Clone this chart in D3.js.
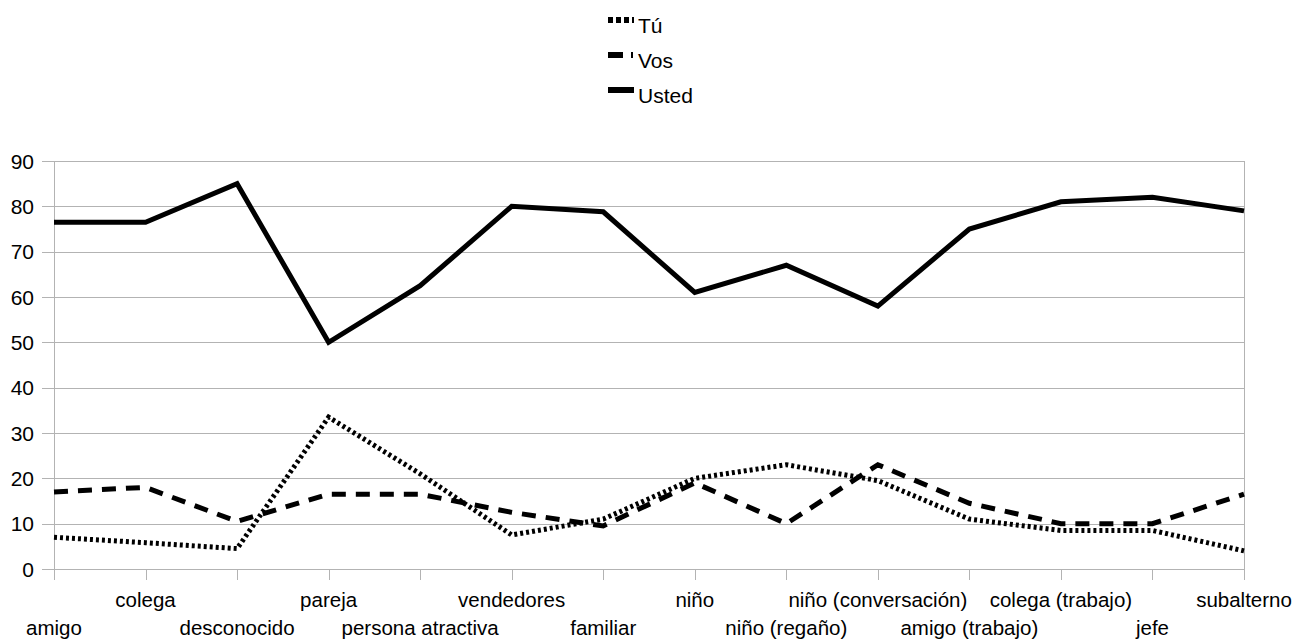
<!DOCTYPE html>
<html>
<head>
<meta charset="utf-8">
<script src="https://cdn.jsdelivr.net/npm/d3@7"></script>
<style>
  body { margin: 0; background: #fff; }
  svg text { font-family: "Liberation Sans", Arial, sans-serif; fill: #000; }
</style>
</head>
<body>
<div id="chart"></div>
<script>
// categories on the x axis
var categories = ["amigo", "colega", "desconocido", "pareja", "persona atractiva", "vendedores",
    "familiar", "niño", "niño (regaño)", "niño (conversación)", "amigo (trabajo)",
    "colega (trabajo)", "jefe", "subalterno"];

var tuValues     = [7, 5.8, 4.5, 33.5, 21, 7.5, 11, 20, 23, 19.5, 11, 8.5, 8.5, 4];
var vosValues    = [17, 18, 10.5, 16.5, 16.5, 12.5, 9.5, 19, 10, 23, 14.5, 10, 10, 16.5];
var ustedValues  = [76.5, 76.5, 85, 50, 62.5, 80, 78.8, 61, 67, 58, 75, 81, 82, 79];

var seriesNames = ["Tú", "Vos", "Usted"];
var yTicks = [0, 10, 20, 30, 40, 50, 60, 70, 80, 90];

var WIDTH = 1293, HEIGHT = 639;
var MARGIN = { LEFT: 54, RIGHT: 49, TOP: 161, BOTTOM: 70 };

var svg = d3.select("#chart")
    .append("svg")
    .attr("width", WIDTH)
    .attr("height", HEIGHT);

var x = d3.scalePoint()
    .domain(categories)
    .range([MARGIN.LEFT, WIDTH - MARGIN.RIGHT]);

var y = d3.scaleLinear()
    .domain([0, 90])
    .range([HEIGHT - MARGIN.BOTTOM, MARGIN.TOP]);

var gridColor = "#b3b3b3";

// horizontal gridlines
svg.append("g")
    .selectAll("line")
    .data(yTicks)
    .enter()
    .append("line")
    .attr("x1", MARGIN.LEFT - 12)
    .attr("x2", WIDTH - MARGIN.RIGHT)
    .attr("y1", function(d) { return Math.round(y(d)) + 0.5; })
    .attr("y2", function(d) { return Math.round(y(d)) + 0.5; })
    .attr("stroke", gridColor)
    .attr("stroke-width", 1);

// y labels
svg.append("g")
    .selectAll("text")
    .data(yTicks)
    .enter()
    .append("text")
    .attr("x", 34)
    .attr("y", function(d) { return y(d); })
    .attr("dy", "0.36em")
    .attr("text-anchor", "end")
    .style("font-size", "21px")
    .text(function(d) { return d; });

// left axis + right border
svg.append("line")
    .attr("x1", MARGIN.LEFT + 0.5).attr("x2", MARGIN.LEFT + 0.5)
    .attr("y1", y(90)).attr("y2", y(0) + 11)
    .attr("stroke", gridColor);
svg.append("line")
    .attr("x1", WIDTH - MARGIN.RIGHT + 0.5).attr("x2", WIDTH - MARGIN.RIGHT + 0.5)
    .attr("y1", y(90)).attr("y2", y(0) + 11)
    .attr("stroke", gridColor);

// x ticks
svg.append("g")
    .selectAll("line")
    .data(categories)
    .enter()
    .append("line")
    .attr("x1", function(d) { return Math.round(x(d)) + 0.5; })
    .attr("x2", function(d) { return Math.round(x(d)) + 0.5; })
    .attr("y1", y(0))
    .attr("y2", y(0) + 11)
    .attr("stroke", gridColor);

// x labels, staggered in two rows
svg.append("g")
    .selectAll("text")
    .data(categories)
    .enter()
    .append("text")
    .attr("x", function(d) { return x(d); })
    .attr("y", function(d, i) { return i % 2 === 0 ? 635 : 607; })
    .attr("text-anchor", "middle")
    .style("font-size", "20.5px")
    .text(function(d) { return d; });

var dashes = { "Tú": "3,3", "Vos": "14,10", "Usted": null };
var allSeries = [
    { name: "Tú", values: tuValues },
    { name: "Vos", values: vosValues },
    { name: "Usted", values: ustedValues }
];

var line = d3.line()
    .x(function(d, i) { return x(categories[i]); })
    .y(function(d) { return y(d); });

svg.append("g")
    .selectAll("path")
    .data(allSeries)
    .enter()
    .append("path")
    .attr("fill", "none")
    .attr("stroke", "#000")
    .attr("stroke-width", 5)
    .attr("stroke-linejoin", "miter")
    .attr("stroke-dasharray", function(d) { return dashes[d.name]; })
    .attr("d", function(d) { return line(d.values); });

// legend
var legend = svg.append("g")
    .selectAll("g")
    .data(seriesNames)
    .enter()
    .append("g")
    .attr("transform", function(d, i) { return "translate(608," + (33 + i * 35) + ")"; });

legend.append("line")
    .attr("x1", 0).attr("x2", 26)
    .attr("y1", -13).attr("y2", -13)
    .attr("stroke", "#000")
    .attr("stroke-width", 6)
    .attr("stroke-dasharray", function(d) { return d === "Tú" ? "5,3" : d === "Vos" ? "15,8,2,20" : null; });

legend.append("text")
    .attr("x", 30)
    .attr("y", 0)
    .style("font-size", "21px")
    .text(function(d) { return d; });
</script>
</body>
</html>
